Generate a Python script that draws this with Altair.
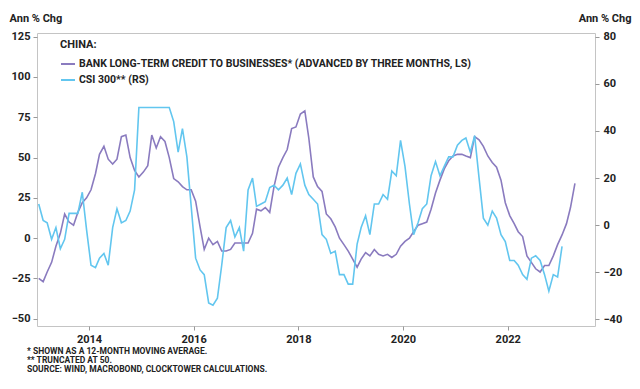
import altair as alt
import pandas as pd

# Bank long-term credit to businesses (12m MA, advanced 3 months), left scale, monthly from Jan 2013
credit = [
    -25, -27, -21, -15, -5, 3, 15, 10, 8, 16, 22, 25,
    30, 40, 52, 57, 49, 46, 49, 63, 64, 50, 42, 38,
    41, 45, 64, 56, 63, 60, 50, 37, 35, 32, 30, 30,
    23, 7, -7, 0, -4, -2, -8, -8, -7, -3, -3, -3,
    -3, 3, 18, 17, 19, 16, 32, 44, 50, 55, 68, 69,
    77, 79, 62, 38, 32, 29, 15, 12, 7, 0, -4, -8,
    -13, -18, -13, -9, -11, -7, -10, -11, -10, -12, -10, -5,
    -2, 0, 4, 8, 9, 10, 18, 28, 36, 43, 48, 51,
    52, 52, 51, 50, 63, 61, 57, 51, 47, 44, 36, 22,
    14, 9, 4, 1, -11, -15, -19, -21, -17, -17, -11, -4,
    2, 9, 19, 34,
]

# CSI 300 (truncated at 50), right scale, monthly from Jan 2013
csi = [
    9, 2, 1, -6, -1, -10, -6, 5, 5, 5, 14, -2,
    -17, -18, -14, -12, -17, -1, 7, 1, 2, 6, 15, 50,
    50, 50, 50, 50, 50, 50, 50, 44, 31, 41, 29, 8,
    -14, -19, -21, -33, -34, -31, -17, -1, 2, -5, -1, -11,
    15, 20, 8, 9, 10, 16, 17, 15, 17, 20, 13, 22,
    26, 17, 13, 11, 9, -4, -6, -12, -11, -21, -21, -25,
    -25, -8, -1, 4, -4, 9, 9, 13, 11, 23, 21, 36,
    25, 9, -4, 1, 7, 9, 21, 27, 21, 25, 29, 29,
    34, 36, 37, 31, 38, 20, 3, 0, 6, 3, -4, -7,
    -15, -15, -17, -21, -23, -14, -13, -15, -21, -28, -21, -22,
    -9,
]

series_names = [
    "BANK LONG-TERM CREDIT TO BUSINESSES* (ADVANCED BY THREE MONTHS, LS)",
    "CSI 300** (RS)",
]
series_colors = ["#8a7bbf", "#62c6ef"]
left_ticks = [-50, -25, 0, 25, 50, 75, 100, 125]
right_ticks = [-40, -20, 0, 20, 40, 60, 80]
year_ticks = [2014, 2016, 2018, 2020, 2022]
footnotes = [
    "* SHOWN AS A 12-MONTH MOVING AVERAGE.",
    "** TRUNCATED AT 50.",
    "SOURCE: WIND, MACROBOND, CLOCKTOWER CALCULATIONS.",
]

def make_frame(values, name):
    dates = pd.date_range("2013-01-01", periods=len(values), freq="MS") + pd.Timedelta(days=14)
    return pd.DataFrame({"date": dates.strftime("%Y-%m-%dT00:00:00Z"), "value": values, "series": name})

df = pd.concat([make_frame(credit, series_names[0]), make_frame(csi, series_names[1])], ignore_index=True)

FONT = "Roboto"
x_enc = alt.X(
    "date:T",
    scale=alt.Scale(type="utc", domain=[alt.DateTime(year=2013, month=1, date=3, utc=True),
                                         alt.DateTime(year=2023, month=9, date=2, utc=True)]),
    axis=alt.Axis(
        values=[alt.DateTime(year=y, month=1, date=1, utc=True) for y in year_ticks],
        format="%Y", formatType="utc", title=None, labelPadding=3, tickSize=4,
    ),
)
color_enc = alt.Color(
    "series:N",
    scale=alt.Scale(domain=series_names, range=series_colors),
    legend=alt.Legend(
        title="CHINA:", orient="none", legendX=23, legendY=6,
        symbolType="stroke", symbolSize=196, symbolStrokeWidth=2,
        labelFont=FONT, labelFontSize=10.5, labelFontWeight="bold", labelColor="#222",
        titleFont=FONT, titleFontSize=11, titleFontWeight="bold", titleColor="#222",
        titlePadding=6, rowPadding=2, labelLimit=700, labelOffset=3, padding=0,
    ),
)

left = alt.Chart(df).transform_filter(alt.datum.series == series_names[0]).mark_line(
    strokeWidth=1.6
).encode(
    x=x_enc,
    y=alt.Y(
        "value:Q",
        scale=alt.Scale(domain=[-54.5, 127.3], nice=False, zero=False),
        axis=alt.Axis(
            orient="left", values=left_ticks, title="Ann % Chg", titleAngle=0,
            titleAlign="left", titleBaseline="middle", titleX=-28, titleY=-15,
            labelPadding=3, tickSize=4,
        ),
    ),
    color=color_enc,
)

right = alt.Chart(df).transform_filter(alt.datum.series == series_names[1]).mark_line(
    strokeWidth=1.6
).encode(
    x=x_enc,
    y=alt.Y(
        "value:Q",
        scale=alt.Scale(domain=[-42.8, 81.6], nice=False, zero=False),
        axis=alt.Axis(
            orient="right", values=right_ticks, title="Ann % Chg", titleAngle=0,
            titleAlign="right", titleBaseline="middle", titleX=36, titleY=-15,
            labelPadding=4, tickSize=4,
        ),
    ),
    color=color_enc,
)

chart = alt.layer(left, right).resolve_scale(y="independent").properties(
    width=558,
    height=293,
    autosize=alt.AutoSizeParams(type="none"),
    padding={"left": 29, "top": 25, "right": 37, "bottom": 55},
    title=alt.TitleParams(
        text=footnotes, orient="bottom", anchor="start", frame="group",
        font=FONT, fontSize=8.5, fontWeight="bold", color="#222",
        lineHeight=9, baseline="top", offset=3, dx=-10,
    ),
).configure_view(
    stroke="#c4c4c4", strokeWidth=1
).configure_axis(
    grid=False, domain=False, tickColor="#999",
    labelFont=FONT, labelFontSize=11, labelFontWeight="bold", labelColor="#222",
    titleFont=FONT, titleFontSize=11, titleFontWeight="bold", titleColor="#222",
)

chart.save("out.html", embed_options={"renderer": "svg", "actions": False})
